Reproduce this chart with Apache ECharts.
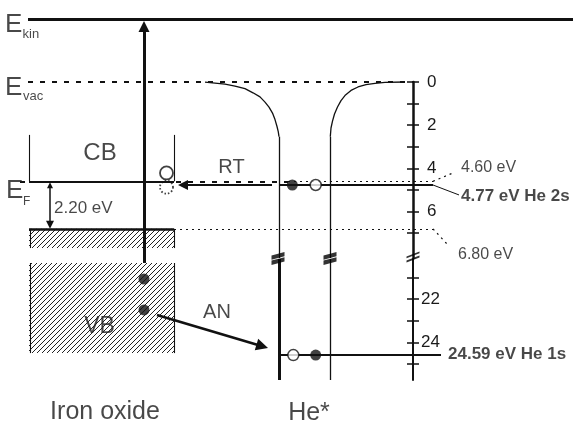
<!DOCTYPE html>
<html><head><meta charset="utf-8">
<script src="https://cdn.jsdelivr.net/npm/echarts@6/dist/echarts.min.js"></script>
<style>html,body{margin:0;padding:0;background:#fff}#c{width:573px;height:424px}</style>
</head><body><div id="c"></div><script>
// ================= DATA (energies in eV below the vacuum level) =================
const upperTicks = [0, 1, 2, 3, 4, 5, 6, 7];
const upperTickLabels = [0, 2, 4, 6];
const lowerTicks = [21, 22, 23, 24, 25];
const lowerTickLabels = [22, 24];

const E_kin = -2.92;      // schematic kinetic-energy level (above vacuum)
const E_vac = 0;
const E_F = 4.60;         // Fermi level of iron oxide
const E_VB = 6.80;        // valence band top
const E_He2s = 4.77;
const E_He1s = 24.59;
const E_CBbottom = 2.45;  // top of drawn CB box walls
const E_VBband1 = 7.69;   // bottom of upper hatched VB strip
const E_VBband2 = [20.33, 24.50]; // lower hatched VB strip
const wellTop = 2.53;     // where He* potential walls become vertical

const labelTexts = ['4.60 eV', '6.80 eV', '4.77 eV He 2s', '24.59 eV He 1s', '2.20 eV'];
const bandNames = ['CB', 'VB'];
const processNames = ['RT', 'AN'];
const partNames = ['Iron oxide', 'He*'];

// He* potential walls [x, energy]
const wallLeft  = [[205, 0.01], [215, 0.05], [225, 0.10], [235, 0.19], [245, 0.31], [253, 0.50], [260, 0.69], [265, 0.93],
  [269, 1.16], [272.5, 1.44], [275, 1.74], [277, 2.06], [278.3, 2.31], [279, 2.53]];
const wallRight = [[330.3, 2.53], [331, 2.13], [332.5, 1.81], [334.5, 1.48], [337.5, 1.16], [341, 0.86], [345.5, 0.60],
  [351, 0.39], [358, 0.23], [366, 0.12], [375, 0.06], [385, 0.02], [405, 0]];

// electrons: upper (0-8 eV part) and lower (20-26 eV part)
const electronsFilledUpper = [[292.3, E_He2s]];
const electronsOpenUpper = [[315.7, E_He2s], [166.5, 4.21]];
const electronsDottedUpper = [[166.5, 4.87]];
const electronsFilledLower = [[144, 21.07], [144, 22.50], [315.7, E_He1s]];
const electronsOpenLower = [[293.3, E_He1s]];

// ================= LAYOUT (horizontal schematic positions, px-like units) =================
const X = { left: 0, axis: 413, right: 573, lvlStart: 28, box1: 29, box2: 174, arrow: 144, gapArrow: 50,
  he1: 279, he2: 330, dashStart: 20, dashEnd: 288, lvlEnd: 433, ls1End: 441 };
const FONT = "'Liberation Sans', Arial, Helvetica, sans-serif";
const INK = '#111';
const TXT = '#1a1a1a';

function hatchPattern() {
  const c = document.createElement('canvas'); c.width = 10; c.height = 10;
  const g = c.getContext('2d');
  g.fillStyle = '#fff'; g.fillRect(0, 0, 10, 10);
  g.strokeStyle = '#222'; g.lineWidth = 1;
  [0, 5, 10, 15, 20].forEach(s => { g.beginPath(); g.moveTo(0, s); g.lineTo(s, 0); g.stroke(); });
  return c;
}
const pat = hatchPattern();

function seg(coords, lw, type, extra) {
  return Object.assign({ type: 'lines', coordinateSystem: 'cartesian2d', polyline: false, clip: false, silent: true,
    lineStyle: { color: INK, width: lw, type: type || 'solid', opacity: 1 }, data: coords.map(c => ({ coords: c })),
    symbol: ['none', 'none'], z: 3 }, extra || {});
}
function onGrid(s, g) { s.xAxisIndex = g; s.yAxisIndex = g * 2; return s; }

function txt(x, e, text, size, opts) {
  return { value: [x, e], label: Object.assign({ formatter: text, fontSize: size, align: 'left' }, opts || {}) };
}
function textSeries(items, g) {
  return onGrid({ type: 'scatter', clip: false, silent: true, symbolSize: 1, itemStyle: { color: 'rgba(0,0,0,0)' }, z: 10,
    label: { show: true, position: 'inside', color: TXT, fontFamily: FONT, verticalAlign: 'middle' }, data: items }, g);
}
function dots(data, size, style, g) {
  return onGrid({ type: 'scatter', clip: false, silent: true, symbol: 'circle', symbolSize: size, z: 6,
    itemStyle: style, data: data }, g);
}
function hatchRect(rects, g) {
  return onGrid({ type: 'custom', clip: false, silent: true, z: 1, data: rects,
    encode: { x: [0, 1], y: [2, 3] },
    renderItem(params, api) {
      const p1 = api.coord([api.value(0), api.value(2)]);
      const p2 = api.coord([api.value(1), api.value(3)]);
      return { type: 'rect', shape: { x: p1[0], y: p1[1], width: p2[0] - p1[0], height: p2[1] - p1[1] },
        style: { fill: { image: pat, repeat: 'repeat' } } };
    } }, g);
}

const axisBase = { type: 'value', inverse: true, position: 'right', splitLine: { show: false } };
const series = [];

// ---------- upper part ----------
series.push(onGrid(hatchRect([[X.box1, X.box2, E_VB, E_VBband1]], 0), 0));
series.push(onGrid(seg([[[X.lvlStart, E_kin], [X.right, E_kin]]], 3), 0));
series.push(onGrid(seg([[[X.box1, E_F], [X.box2, E_F]]], 2.2), 0));
series.push(onGrid(seg([[[X.box1, E_VB], [X.box2, E_VB]]], 2.5), 0));
series.push(onGrid(seg([[[X.box1, E_CBbottom], [X.box1, E_F]], [[X.box2, E_CBbottom], [X.box2, E_F]],
  [[30, E_VB], [30, E_VBband1]], [[X.box2, E_VB], [X.box2, E_VBband1]]], 1.1), 0));
series.push(onGrid(seg([[[X.he1, E_He2s], [X.lvlEnd, E_He2s]]], 2), 0));
series.push(onGrid(seg([[[X.he1, wellTop], [X.he1, 8.15]], [[X.he2, wellTop], [X.he2, 8.15]]], 1.3), 0));
series.push(onGrid(seg([[[X.lvlEnd, E_He2s], [459, 5.23]]], 1), 0));
series.push(onGrid(seg([[[X.lvlStart, E_vac], [X.axis, E_vac]]], 2, [5, 7]), 0));
series.push(onGrid(seg([[[X.dashStart, E_F], [X.dashEnd, E_F]]], 1.8, [5, 7]), 0));
series.push(onGrid(seg([[[X.dashEnd, E_F], [X.lvlEnd, E_F]], [[X.lvlEnd, E_F], [453, 4.21]],
  [[X.box2, E_VB], [X.lvlEnd, E_VB]], [[X.lvlEnd, E_VB], [448, 7.55]]], 1.2, [2, 4]), 0));
// arrows
series.push(onGrid(seg([[[X.arrow, 8.38], [X.arrow, -2.57]]], 3, 'solid', { symbol: ['none', 'triangle'], symbolSize: [9, 11] }), 0));
series.push(onGrid(seg([[[272, E_He2s], [183, E_He2s]]], 1.8, 'solid', { symbol: ['none', 'triangle'], symbolSize: [7, 10] }), 0));
series.push(onGrid(seg([[[X.gapArrow, 4.785], [X.gapArrow, 6.615]]], 1.5, 'solid', { symbol: ['triangle', 'triangle'], symbolSize: [6, 8] }), 0));
// He* potential walls
series.push(onGrid({ type: 'line', clip: false, silent: true, smooth: false, symbol: 'none', z: 3,
  lineStyle: { color: INK, width: 1.3, join: 'round' }, data: wallLeft }, 0));
series.push(onGrid({ type: 'line', clip: false, silent: true, smooth: false, symbol: 'none', z: 3,
  lineStyle: { color: INK, width: 1.3, join: 'round' }, data: wallRight }, 0));
// electrons
series.push(dots(electronsFilledUpper, 11, { color: INK }, 0));
series.push(dots(electronsOpenUpper.slice(0, 1), 11, { color: '#fff', borderColor: INK, borderWidth: 1.5 }, 0));
series.push(dots(electronsOpenUpper.slice(1), 13, { color: '#fff', borderColor: INK, borderWidth: 1.8 }, 0));
series.push(dots(electronsDottedUpper, 13, { color: 'rgba(255,255,255,0)', borderColor: INK, borderWidth: 1.8, borderType: [1.5, 2] }, 0));
// axis break marks
series.push(onGrid({ type: 'scatter', clip: false, silent: true, z: 7,
  symbol: 'path://M0,4 L12,0 L12,5 L0,9 Z M0,10 L12,6 L12,11 L0,15 Z', symbolSize: [13, 13],
  itemStyle: { color: '#000' }, data: [[X.he1 - 1, 8.17], [X.he2, 8.17]] }, 0));
series.push(onGrid({ type: 'scatter', clip: false, silent: true, z: 7,
  symbol: 'path://M0,5 L12,0 L12,1.8 L0,6.8 Z M0,9.2 L12,4.2 L12,6 L0,11 Z', symbolSize: [13, 11],
  itemStyle: { color: '#000' }, data: [[X.axis, 8.10]] }, 0));
// texts
series.push(textSeries([
  txt(5, -2.66, 'E', 26), txt(22.5, -2.2, 'kin', 13),
  txt(5, 0.26, 'E', 26), txt(23, 0.69, 'vac', 13),
  txt(6, 5.03, 'E', 26), txt(23, 5.54, 'F', 12),
  txt(100, 3.29, bandNames[0], 24, { align: 'center' }),
  txt(231.5, 3.98, processNames[0], 20, { align: 'center' }),
  txt(54, 5.86, labelTexts[4], 17),
  txt(461, 3.96, labelTexts[0], 16),
  txt(461, 5.29, labelTexts[2], 17, { fontWeight: 'bold' }),
  txt(458, 8.01, labelTexts[1], 16)
], 0));

// ---------- lower part ----------
series.push(onGrid(hatchRect([[X.box1, X.box2, E_VBband2[0], E_VBband2[1]]], 1), 1));
series.push(onGrid(seg([[[30, E_VBband2[0]], [30, E_VBband2[1]]], [[X.box2, E_VBband2[0]], [X.box2, E_VBband2[1]]]], 1.1), 1));
series.push(onGrid(seg([[[X.he1, 20.144], [X.he1, 25.745]]], 3), 1));
series.push(onGrid(seg([[[X.he2, 20.144], [X.he2, 25.745]]], 1.3), 1));
series.push(onGrid(seg([[[X.he1, E_He1s], [X.ls1End, E_He1s]]], 2), 1));
series.push(onGrid(seg([[[157, 22.74], [262.25, 24.185]]], 2.6, 'solid', { symbol: ['none', 'triangle'], symbolSize: [8, 12] }), 1));
series.push(dots(electronsFilledLower, 11, { color: INK }, 1));
series.push(dots(electronsOpenLower, 11, { color: '#fff', borderColor: INK, borderWidth: 1.5 }, 1));
series.push(textSeries([
  txt(99.5, 23.29, bandNames[1], 23, { align: 'center' }),
  txt(217, 22.60, processNames[1], 20, { align: 'center' }),
  txt(448, 24.54, labelTexts[3], 17, { fontWeight: 'bold' }),
  txt(105, 27.23, partNames[0], 25, { align: 'center' }),
  txt(309, 27.27, partNames[1], 25, { align: 'center' })
], 1));

function yAxes(grid, min, max, ticks, labels, lineW, margin) {
  return [
    Object.assign({}, axisBase, { gridIndex: grid, min, max,
      axisLine: { show: true, onZero: false, lineStyle: { color: INK, width: lineW } },
      axisTick: { show: true, inside: true, length: 6, customValues: ticks, lineStyle: { color: INK, width: 1.5 } },
      axisLabel: { show: false } }),
    Object.assign({}, axisBase, { gridIndex: grid, min, max,
      axisLine: { show: false, onZero: false },
      axisTick: { show: true, inside: false, length: 6, customValues: ticks, lineStyle: { color: INK, width: 1.5 } },
      axisLabel: { show: true, customValues: labels, margin, fontSize: 17, color: TXT, fontFamily: FONT } })
  ];
}

const option = {
  animation: false,
  backgroundColor: '#fff',
  grid: [
    { left: 0, top: 82, width: X.axis, height: 176 },
    { left: 0, top: 259, width: X.axis, height: 121 }
  ],
  xAxis: [
    { type: 'value', gridIndex: 0, min: X.left, max: X.axis, show: false },
    { type: 'value', gridIndex: 1, min: X.left, max: X.axis, show: false }
  ],
  yAxis: [].concat(yAxes(0, 0, 8.15, upperTicks, upperTickLabels, 2.5, 14), yAxes(1, 20.144, 25.745, lowerTicks, lowerTickLabels, 2, 8)),
  series: series
};
const chart = echarts.init(document.getElementById('c'), null, { renderer: 'canvas' });
chart.setOption(option);
</script></body></html>
